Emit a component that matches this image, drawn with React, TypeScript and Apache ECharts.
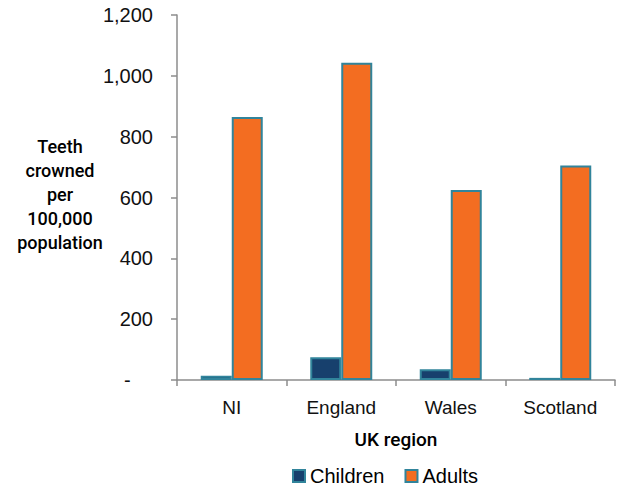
import React, { useEffect, useRef } from "react";
import * as echarts from "echarts";

const regions = ["NI", "England", "Wales", "Scotland"];
const children = [14, 75, 35, 7];
const adults = [865, 1043, 625, 705];
const yTicks = { min: 0, max: 1200, interval: 200 };
const yName = ["Teeth", "crowned", "per", "100,000", "population"];
const xName = "UK region";

const FONT = "Liberation Sans";

export default function App() {
  const ref = useRef<HTMLDivElement>(null);
  useEffect(() => {
    const chart = echarts.init(ref.current!, null, { renderer: "svg" });
    chart.setOption({
      animation: false,
      textStyle: { fontFamily: FONT },
      grid: { left: 177, top: 15, right: 8, bottom: 108 },
      legend: {
        left: 287,
        top: 461,
        itemWidth: 12,
        itemHeight: 12,
        itemGap: 20,
        icon: "rect",
        textStyle: { fontSize: 20, color: "#000", fontFamily: FONT },
        data: ["Children", "Adults"],
      },
      graphic: [
        {
          type: "text",
          x: 60,
          y: 194,
          style: {
            text: yName.join("\n"),
            fontSize: 18,
            fontWeight: 500,
            fontFamily: "Roboto",
            fill: "#000",
            align: "center",
            verticalAlign: "middle",
            lineHeight: 24,
          },
        },
      ],
      xAxis: {
        type: "category",
        data: regions,
        name: xName,
        nameLocation: "middle",
        nameGap: 50,
        nameTextStyle: { fontSize: 19, fontWeight: 500, color: "#000", fontFamily: "Roboto" },
        axisLine: { lineStyle: { color: "#8c8c8c", width: 1.5 } },
        axisTick: { show: true, length: 6, lineStyle: { color: "#8c8c8c", width: 1.5 } },
        axisLabel: { fontSize: 19, color: "#111", margin: 18, fontFamily: FONT },
      },
      yAxis: {
        type: "value",
        min: yTicks.min,
        max: yTicks.max,
        interval: yTicks.interval,
        splitLine: { show: false },
        axisLine: { show: true, lineStyle: { color: "#8c8c8c", width: 1.5 } },
        axisTick: { show: true, length: 6, lineStyle: { color: "#8c8c8c", width: 1.5 } },
        axisLabel: {
          fontSize: 20,
          color: "#111",
          margin: 24,
          fontFamily: FONT,
          formatter: (v: number) => (v === 0 ? "-    " : v.toLocaleString("en-US")),
        },
      },
      series: [
        {
          name: "Children",
          type: "bar",
          data: children,
          barWidth: 31,
          barGap: "0%",
          itemStyle: { color: "#17406d", borderColor: "#31849b", borderWidth: 2 },
        },
        {
          name: "Adults",
          type: "bar",
          data: adults,
          barWidth: 31,
          barGap: "0%",
          itemStyle: { color: "#f36d21", borderColor: "#31849b", borderWidth: 2 },
        },
      ],
    });
    return () => chart.dispose();
  }, []);
  return <div ref={ref} style={{ width: 623, height: 488, position: "absolute", left: 0, top: 0 }} />;
}
